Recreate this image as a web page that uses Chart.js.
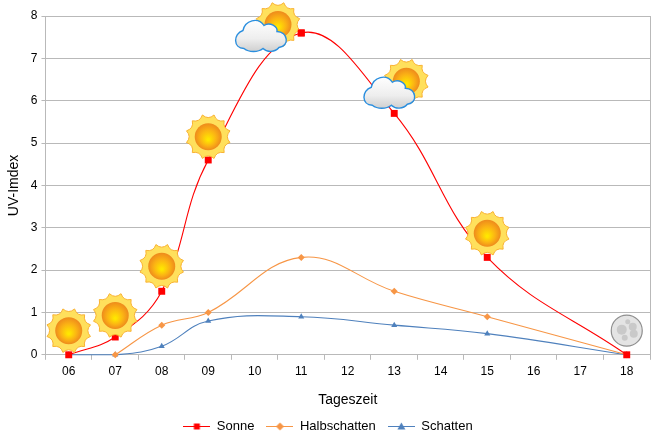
<!DOCTYPE html>
<html>
<head>
<meta charset="utf-8">
<script src="https://cdn.jsdelivr.net/npm/chart.js@4"></script>
<style>
  html, body { margin: 0; padding: 0; background: #fff; }
  #wrap { width: 663px; height: 440px; }
</style>
</head>
<body>
<div id="wrap"><canvas id="chart"></canvas></div>
<script>
const hours = ['06', '07', '08', '09', '10', '11', '12', '13', '14', '15', '16', '17', '18']
const sonne = [0, 0.42, 1.5, 4.6, null, 7.6, null, 5.7, null, 2.3, null, null, 0]
const halbschatten = [null, 0, 0.7, 1, null, 2.3, null, 1.5, null, 0.9, null, null, 0]
const schatten = [0, 0, 0.2, 0.8, null, 0.9, null, 0.7, null, 0.5, null, null, 0]
const yTicks = [0, 1, 2, 3, 4, 5, 6, 7, 8]

// Wettersymbole: Stunde, UV-Hoehe des Symbols, Versatz in Kategorien
const iconHours = ['06', '07', '08', '09', '11', '13', '15', '18']
const iconValues = [0.57, 0.93, 2.09, 5.15, 7.8, 6.46, 2.87, 0.57]
const iconShift = [0, 0, 0, 0, -0.5, 0.26, 0, 0]
const iconKinds = ['sun', 'sun', 'sun', 'sun', 'cloudy', 'cloudy', 'sun', 'moon']

const FONT = "'Liberation Sans', Arial, sans-serif"
const GRID = '#b9b9b9'

function drawSun(ctx, x, y) {
  const outer = 22.5, valley = 16.5, rays = 12
  ctx.save()
  ctx.translate(x, y)
  ctx.beginPath()
  for (let i = 0; i < rays; i++) {
    const a = (i / rays) * Math.PI * 2 - Math.PI / 12
    const mid = a + Math.PI / rays
    const next = a + (2 * Math.PI) / rays
    if (i === 0) ctx.moveTo(Math.cos(a) * outer, Math.sin(a) * outer)
    ctx.quadraticCurveTo(Math.cos(mid) * valley, Math.sin(mid) * valley, Math.cos(next) * outer, Math.sin(next) * outer)
  }
  ctx.closePath()
  ctx.fillStyle = '#ffe05c'
  ctx.fill()
  ctx.lineWidth = 1
  ctx.strokeStyle = '#f9b233'
  ctx.stroke()
  const disc = ctx.createRadialGradient(0, 3, 1, 0, 0, 13.5)
  disc.addColorStop(0, '#ffe600')
  disc.addColorStop(0.55, '#fbb314')
  disc.addColorStop(1, '#ee8a1c')
  ctx.fillStyle = disc
  ctx.beginPath()
  ctx.arc(0, 0, 13.5, 0, Math.PI * 2)
  ctx.fill()
  ctx.restore()
}

function drawCloud(ctx, x, y) {
  ctx.save()
  ctx.translate(x, y)
  ctx.beginPath()
  ctx.moveTo(-17, 13)
  ctx.bezierCurveTo(-28, 13, -28, -2, -18, -5)
  ctx.bezierCurveTo(-16, -15, -3, -19, 3, -10)
  ctx.bezierCurveTo(9, -14, 17, -9, 16, -4)
  ctx.bezierCurveTo(27, -4, 29, 11, 18, 12)
  ctx.bezierCurveTo(14, 17, 6, 17, 2, 13)
  ctx.bezierCurveTo(-3, 17, -12, 17, -17, 13)
  ctx.closePath()
  const g = ctx.createLinearGradient(0, -16, 0, 16)
  g.addColorStop(0, '#ffffff')
  g.addColorStop(0.6, '#eeeeee')
  g.addColorStop(1, '#cfcfcf')
  ctx.fillStyle = g
  ctx.fill()
  ctx.lineWidth = 1.4
  ctx.strokeStyle = '#2a8ede'
  ctx.stroke()
  ctx.restore()
}

function drawMoon(ctx, x, y) {
  ctx.save()
  ctx.translate(x, y)
  ctx.beginPath()
  ctx.arc(0, 0, 15.5, 0, Math.PI * 2)
  ctx.fillStyle = '#e4e4e4'
  ctx.fill()
  ctx.lineWidth = 1.2
  ctx.strokeStyle = '#8f8f8f'
  ctx.stroke()
  ctx.fillStyle = '#c9c9c9'
  const spots = [[-5, -1, 5], [6, -4, 4], [7, 3, 4], [-2, 7, 3], [1, -9, 2.5]]
  spots.forEach(s => {
    ctx.beginPath()
    ctx.arc(s[0], s[1], s[2], 0, Math.PI * 2)
    ctx.fill()
  })
  ctx.restore()
}

const weatherIcons = {
  id: 'weatherIcons',
  afterDatasetsDraw(chart) {
    const { ctx, scales: { x, y } } = chart
    const step = x.getPixelForValue(1) - x.getPixelForValue(0)
    iconHours.forEach((h, i) => {
      const px = x.getPixelForValue(hours.indexOf(h)) + iconShift[i] * step
      const py = y.getPixelForValue(iconValues[i])
      if (iconKinds[i] === 'moon') drawMoon(ctx, px, py)
      else if (iconKinds[i] === 'sun') drawSun(ctx, px, py)
      else {
        drawSun(ctx, px, py)
        drawCloud(ctx, px - 17, py + 11)
      }
    })
    // Marker um 11 Uhr liegt sichtbar ueber dem Symbol
    chart.getDatasetMeta(0).data[5].draw(ctx)
  }
}

const plotFrame = {
  id: 'plotFrame',
  beforeDatasetsDraw(chart) {
    const { ctx, chartArea: a } = chart
    ctx.save()
    ctx.strokeStyle = GRID
    ctx.lineWidth = 1
    ctx.beginPath()
    ctx.moveTo(a.right + 0.5, a.top)
    ctx.lineTo(a.right + 0.5, a.bottom)
    ctx.stroke()
    ctx.restore()
  }
}

function legendMark(color, style) {
  const c = document.createElement('canvas')
  c.width = 27
  c.height = 9
  const g = c.getContext('2d')
  g.strokeStyle = color
  g.fillStyle = color
  g.lineWidth = 1
  g.beginPath()
  g.moveTo(0, 4.5)
  g.lineTo(27, 4.5)
  g.stroke()
  g.beginPath()
  if (style === 'rect') g.rect(10.5, 1.5, 6, 6)
  if (style === 'rectRot') {
    g.moveTo(13.5, 0.5); g.lineTo(17.5, 4.5); g.lineTo(13.5, 8.5); g.lineTo(9.5, 4.5)
  }
  if (style === 'triangle') {
    g.moveTo(13.5, 0.5); g.lineTo(17.5, 7.5); g.lineTo(9.5, 7.5)
  }
  g.fill()
  return c
}

function line(label, data, color, style, radius) {
  return {
    label, data,
    borderColor: color,
    backgroundColor: color,
    borderWidth: 1.1,
    tension: 0.4,
    spanGaps: true,
    pointStyle: style,
    pointRadius: radius,
    pointBorderWidth: 0,
    clip: false
  }
}

new Chart(document.getElementById('chart'), {
  type: 'line',
  data: {
    labels: hours,
    datasets: [
      line('Sonne', sonne, '#ff0000', 'rect', 4.9),
      line('Halbschatten', halbschatten, '#f79646', 'rectRot', 3.5),
      line('Schatten', schatten, '#4f81bd', 'triangle', 3.5)
    ]
  },
  plugins: [plotFrame, weatherIcons],
  options: {
    responsive: true,
    maintainAspectRatio: false,
    animation: false,
    layout: { padding: { left: 6, right: 13, top: 16, bottom: -3 } },
    plugins: {
      tooltip: { enabled: false },
      legend: {
        position: 'bottom',
        labels: {
          color: '#000',
          font: { family: FONT, size: 13 },
          usePointStyle: true,
          pointStyleWidth: 27,
          padding: 12,
          generateLabels(chart) {
            return chart.data.datasets.map((d, i) => ({
              text: d.label,
              fontColor: '#000',
              pointStyle: legendMark(d.borderColor, d.pointStyle),
              datasetIndex: i,
              lineWidth: 0,
              hidden: false
            }))
          }
        }
      }
    },
    scales: {
      x: {
        offset: true,
        grid: { drawOnChartArea: false, offset: true, color: GRID, tickLength: 5 },
        border: { color: GRID },
        ticks: { color: '#000', font: { family: FONT, size: 12 }, padding: 5, maxRotation: 0, autoSkip: false },
        title: { display: true, text: 'Tageszeit', color: '#000', font: { family: FONT, size: 14 }, padding: { top: 8, bottom: -1 } }
      },
      y: {
        min: 0,
        max: 8,
        afterBuildTicks(scale) { scale.ticks = yTicks.map(value => ({ value })) },
        grid: { color: GRID, tickLength: 4 },
        border: { color: GRID },
        ticks: { color: '#000', font: { family: FONT, size: 12 }, padding: 4 },
        title: { display: true, text: 'UV-Imdex', color: '#000', font: { family: FONT, size: 14 }, padding: { top: 0, bottom: 4 } }
      }
    }
  }
})
</script>
</body>
</html>
